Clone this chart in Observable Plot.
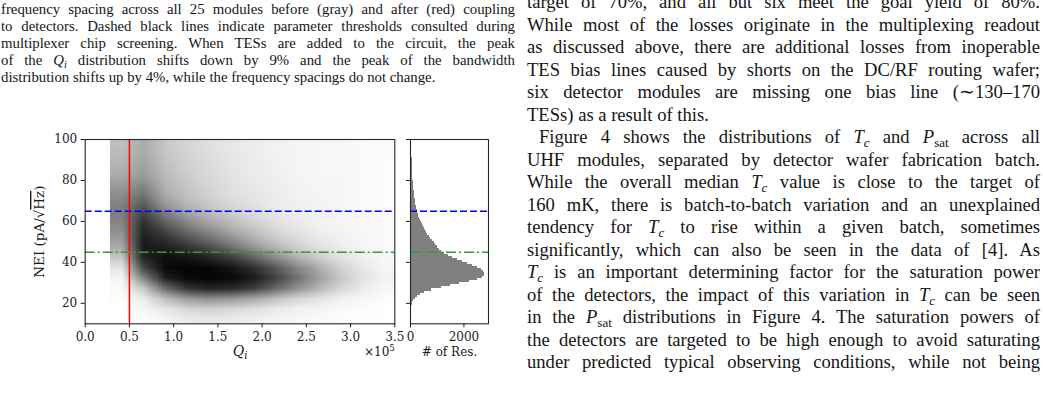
<!DOCTYPE html>
<html><head><meta charset="utf-8">
<script src="https://cdn.jsdelivr.net/npm/d3@7"></script>
<script src="https://cdn.jsdelivr.net/npm/@observablehq/plot@0.6"></script>
<style>
html,body{margin:0;padding:0;background:#fff;}
body{width:1043px;height:395px;overflow:hidden;position:relative;font-family:"Liberation Serif","Times New Roman",serif;color:#151515;}
.ln{position:absolute;white-space:nowrap;text-align:justify;text-align-last:justify;box-sizing:border-box;}
.ln.last{text-align-last:left;}
sub{font-size:0.7em;vertical-align:-0.28em;line-height:0;}
.chart{position:absolute;top:120px;}
</style></head>
<body>
<div id="caption"></div>
<div id="body"></div>
<div id="scatter" class="chart" style="left:0px"></div>
<div id="hist" class="chart" style="left:395px"></div>
<script>
// ---------- chart data ----------
const qiDomain = [0, 3.5];            // Q_i in units of 10^5
const neiDomain = [10, 100];          // NEI (pA/sqrt(Hz))
const qiTicks = [0, 0.5, 1.0, 1.5, 2.0, 2.5, 3.0, 3.5];
const neiTicks = [20, 40, 60, 80, 100];
const countTicks = [0, 2000];
const countDomain = [0, 2920];
const qiThreshold = 0.5;
const neiThresholdBlue = 65;
const neiThresholdGreen = 45;

// scatter point density (0 = empty, 1 = saturated black)
// columns: 13 equal Q_i bins from 0.28 (left edge of the point cloud) to 3.5;
// rows: NEI bins of 5 from 100 (top) down to 10
const densityQiStart = 0.28;
const densityRows = [
  [0.25,0.33,0.22,0.16,0.12,0.09,0.07,0.05,0.04,0.03,0.03,0.02,0.02], // 95-100
  [0.27,0.34,0.23,0.17,0.13,0.10,0.07,0.05,0.04,0.03,0.03,0.02,0.01], // 90-95
  [0.30,0.36,0.25,0.18,0.14,0.10,0.08,0.06,0.04,0.03,0.02,0.02,0.01], // 85-90
  [0.33,0.40,0.27,0.20,0.15,0.11,0.08,0.06,0.04,0.03,0.03,0.02,0.01], // 80-85
  [0.40,0.48,0.30,0.22,0.16,0.12,0.09,0.07,0.05,0.04,0.03,0.02,0.01], // 75-80
  [0.45,0.56,0.34,0.24,0.18,0.13,0.10,0.07,0.05,0.04,0.03,0.02,0.01], // 70-75
  [0.50,0.66,0.42,0.30,0.22,0.16,0.12,0.08,0.06,0.05,0.03,0.02,0.01], // 65-70
  [0.50,0.77,0.55,0.40,0.30,0.22,0.15,0.10,0.07,0.05,0.04,0.03,0.02], // 60-65
  [0.45,0.84,0.68,0.52,0.40,0.30,0.21,0.14,0.09,0.06,0.04,0.03,0.02], // 55-60
  [0.40,0.88,0.80,0.66,0.54,0.42,0.30,0.20,0.13,0.08,0.05,0.03,0.02], // 50-55
  [0.33,0.90,0.88,0.80,0.70,0.57,0.42,0.30,0.19,0.12,0.07,0.04,0.02], // 45-50
  [0.22,0.86,0.94,0.92,0.86,0.76,0.62,0.46,0.31,0.20,0.11,0.06,0.03], // 40-45
  [0.10,0.72,0.96,0.98,0.97,0.92,0.82,0.66,0.48,0.32,0.18,0.09,0.04], // 35-40
  [0.04,0.48,0.88,0.97,0.98,0.96,0.90,0.75,0.56,0.38,0.22,0.11,0.05], // 30-35
  [0.02,0.22,0.58,0.80,0.86,0.84,0.76,0.60,0.43,0.29,0.16,0.08,0.03], // 25-30
  [0.01,0.08,0.26,0.40,0.45,0.42,0.35,0.26,0.17,0.11,0.06,0.03,0.01], // 20-25
  [0.00,0.03,0.10,0.16,0.18,0.16,0.13,0.09,0.06,0.04,0.02,0.01,0.00], // 15-20
  [0.00,0.01,0.04,0.08,0.09,0.08,0.06,0.04,0.03,0.02,0.01,0.00,0.00]  // 10-15
];

// histogram of NEI (# of resonators), bins of width 1 starting at NEI = 10
const histBinStart = 10;
const histBinWidth = 1;
const histCounts = [
  4, 6, 8, 10, 13, 17, 22, 30, 42, 60,              // 10-19
  85, 120, 170, 260, 380, 520, 800, 1150, 1500, 1850, // 20-29
  2200, 2500, 2680, 2760, 2780, 2740, 2650, 2500, 2330, 2150, // 30-39
  1960, 1760, 1580, 1420, 1290, 1170, 1080, 1000, 940, 880,   // 40-49
  820, 760, 705, 650, 600, 555, 510, 470, 435, 400, // 50-59
  370, 340, 315, 290, 268, 248, 230, 213, 198, 184, // 60-69
  171, 160, 150, 141, 133, 125, 118, 111, 105, 99,  // 70-79
  93, 88, 84, 80, 76, 72, 69, 66, 63, 60,           // 80-89
  57, 54, 51, 49, 47, 45, 43, 41, 39, 37            // 90-99
];

// ---------- text ----------
const captionLines = [
  "frequency spacing across all 25 modules before (gray) and after (red) coupling",
  "to detectors. Dashed black lines indicate parameter thresholds consulted during",
  "multiplexer chip screening. When TESs are added to the circuit, the peak",
  "of the <i>Q</i><sub><i>i</i></sub> distribution shifts down by 9% and the peak of the bandwidth",
  "distribution shifts up by 4%, while the frequency spacings do not change."
];
const captionLast = [4];
const bodyLines = [
  "target of 70%, and all but six meet the goal yield of 80%.",
  "While most of the losses originate in the multiplexing readout",
  "as discussed above, there are additional losses from inoperable",
  "TES bias lines caused by shorts on the DC/RF routing wafer;",
  "six detector modules are missing one bias line (∼130–170",
  "TESs) as a result of this.",
  "Figure 4 shows the distributions of <i>T</i><sub><i>c</i></sub> and <i>P</i><sub>sat</sub> across all",
  "UHF modules, separated by detector wafer fabrication batch.",
  "While the overall median <i>T</i><sub><i>c</i></sub> value is close to the target of",
  "160 mK, there is batch-to-batch variation and an unexplained",
  "tendency for <i>T</i><sub><i>c</i></sub> to rise within a given batch, sometimes",
  "significantly, which can also be seen in the data of [4]. As",
  "<i>T</i><sub><i>c</i></sub> is an important determining factor for the saturation power",
  "of the detectors, the impact of this variation in <i>T</i><sub><i>c</i></sub> can be seen",
  "in the <i>P</i><sub>sat</sub> distributions in Figure 4. The saturation powers of",
  "the detectors are targeted to be high enough to avoid saturating",
  "under predicted typical observing conditions, while not being"
];
const bodyLast = [5];
const bodyIndent = [6];

function layoutColumn(container, lines, opt) {
  lines.forEach((html, i) => {
    const d = document.createElement("div");
    d.className = "ln" + (opt.last.includes(i) ? " last" : "");
    d.style.left = opt.left + "px";
    d.style.width = opt.width + "px";
    d.style.fontSize = opt.fontSize + "px";
    d.style.lineHeight = opt.pitch + "px";
    d.style.height = opt.pitch + "px";
    d.style.top = (opt.firstCenter + i * opt.pitch - opt.pitch / 2) + "px";
    if (opt.indent && opt.indent.includes(i)) d.style.paddingLeft = opt.indentPx + "px";
    const s = document.createElement("span");
    s.innerHTML = html;
    d.appendChild(s);
    container.appendChild(d);
    d.style.textAlignLast = "left";
    const avail = opt.width - (opt.indent && opt.indent.includes(i) ? opt.indentPx : 0);
    const nat = s.getBoundingClientRect().width;
    const spaces = (s.textContent.match(/ /g) || []).length;
    if (nat > avail && spaces) d.style.wordSpacing = ((avail - nat) / spaces - 0.05) + "px";
    d.style.textAlignLast = "";
  });
}
layoutColumn(document.getElementById("caption"), captionLines,
  {left: 1, width: 514, fontSize: 14.8, pitch: 17.1, firstCenter: 9.5, last: captionLast});
layoutColumn(document.getElementById("body"), bodyLines,
  {left: 527, width: 513, fontSize: 18.6, pitch: 22.5, firstCenter: 2.5, last: bodyLast, indent: bodyIndent, indentPx: 12});

// ---------- charts ----------
const chartStyle = {fontFamily: "'DejaVu Serif', serif", fontSize: "12px", color: "#1a1a1a", background: "transparent", overflow: "visible"};
const frameStroke = "#262626";

const scatter = Plot.plot({
  width: 410, height: 250,
  marginLeft: 84.7, marginRight: 15.7, marginTop: 19, marginBottom: 46.7,
  x: {domain: qiDomain},
  y: {domain: neiDomain},
  color: {type: "linear", domain: [0, 1], range: ["#ffffff", "#000000"]},
  style: chartStyle,
  marks: [
    Plot.raster(densityRows.flat(), {
      width: densityRows[0].length, height: densityRows.length,
      x1: densityQiStart, x2: qiDomain[1], y1: neiDomain[1], y2: neiDomain[0],
      fill: d => d, imageRendering: "auto"
    }),
    Plot.ruleX([qiThreshold], {stroke: "#ff0000", strokeWidth: 1.5}),
    Plot.ruleY([neiThresholdBlue], {stroke: "#0000ff", strokeWidth: 1.5, strokeDasharray: "7,3"}),
    Plot.ruleY([neiThresholdGreen], {stroke: "#2ca02c", strokeWidth: 1.5, strokeDasharray: "10,3,2,3"}),
    Plot.frame({stroke: frameStroke, strokeWidth: 1.1}),
    Plot.axisX({ticks: qiTicks, tickFormat: d3.format(".1f"), tickSize: 4, tickPadding: 5, label: null}),
    Plot.axisY({ticks: neiTicks, tickSize: 4, tickPadding: 4, label: null}),
    Plot.text(["NEI-LABEL"], {frameAnchor: "left", rotate: -90, dx: -45.5, textAnchor: "middle", fontSize: 13.5}),
    Plot.text(["QI-LABEL"], {frameAnchor: "bottom", dy: 32, textAnchor: "middle", fontSize: 14}),
    Plot.text(["EXP-LABEL"], {frameAnchor: "bottom-right", dy: 32, textAnchor: "end", fontSize: 12})
  ]
});

const hist = Plot.plot({
  width: 118, height: 250,
  marginLeft: 15, marginRight: 25, marginTop: 19, marginBottom: 46.7,
  x: {domain: countDomain},
  y: {domain: neiDomain},
  style: chartStyle,
  marks: [
    Plot.rect(histCounts, {
      x1: 0, x2: d => d,
      y1: (d, i) => histBinStart + i * histBinWidth,
      y2: (d, i) => histBinStart + (i + 1) * histBinWidth,
      fill: "#808080", shapeRendering: "crispEdges"
    }),
    Plot.ruleY([neiThresholdBlue], {stroke: "#0000ff", strokeWidth: 1.5, strokeDasharray: "7,3"}),
    Plot.ruleY([neiThresholdGreen], {stroke: "#2ca02c", strokeWidth: 1.5, strokeDasharray: "10,3,2,3"}),
    Plot.frame({stroke: frameStroke, strokeWidth: 1.1}),
    Plot.axisX({ticks: countTicks, tickFormat: d => String(d), tickSize: 4, tickPadding: 5, label: null}),
    Plot.axisY({ticks: neiTicks, tickSize: 4, tickFormat: () => "", label: null}),
    Plot.text(["# of Res."], {frameAnchor: "bottom", dy: 32, textAnchor: "middle", fontSize: 12})
  ]
});

document.getElementById("scatter").appendChild(scatter);
document.getElementById("hist").appendChild(hist);

// rich text for the axis labels
d3.select(scatter).selectAll("text").each(function () {
  const t = d3.select(this);
  const s = this.textContent;
  if (s === "NEI-LABEL") {
    t.text(null);
    t.append("tspan").text("NEI (pA/√");
    t.append("tspan").style("text-decoration", "overline").text("Hz");
    t.append("tspan").text(")");
  } else if (s === "QI-LABEL") {
    t.text(null);
    t.append("tspan").attr("font-style", "italic").text("Q");
    t.append("tspan").attr("font-style", "italic").attr("font-size", "0.72em").attr("dy", "0.3em").text("i");
  } else if (s === "EXP-LABEL") {
    t.text(null);
    t.append("tspan").text("×10");
    t.append("tspan").attr("font-size", "0.72em").attr("dy", "-0.5em").text("5");
  }
});
</script>
</body></html>
